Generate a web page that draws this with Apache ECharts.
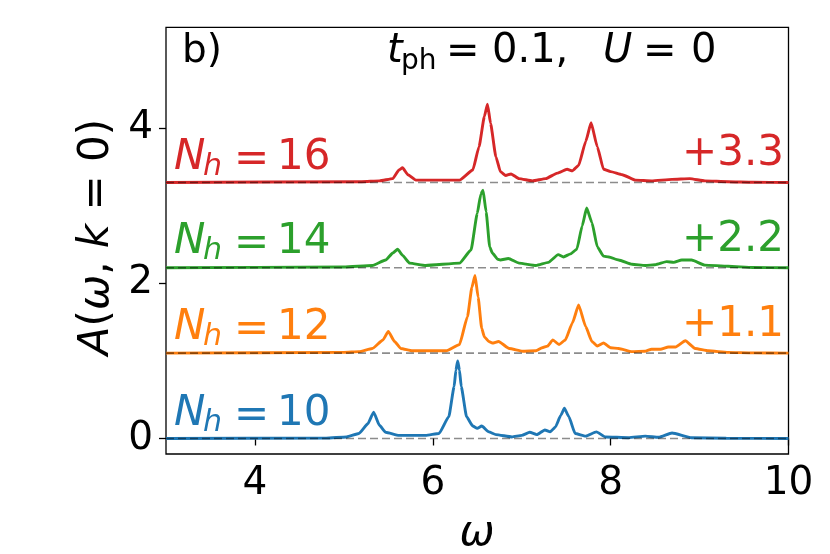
<!DOCTYPE html>
<html>
<head>
<meta charset="utf-8">
<script src="https://cdn.jsdelivr.net/npm/echarts@6/dist/echarts.min.js"></script>
<style>
html, body { margin: 0; padding: 0; background: #fff; }
#chart { width: 830px; height: 554px; }
</style>
</head>
<body>
<div id="chart"></div>
<script>
// spectra A(w, k=0) (raw, before the vertical shift)
var spec10 = [[3.0,0],[4.8,0.005],[5.03,0.02],[5.17,0.065],[5.27,0.19],[5.335,0.34],[5.40,0.17],[5.47,0.08],
  [5.62,0.04],[5.92,0.04],[6.07,0.065],[6.18,0.28],[6.24,0.67],[6.26,0.88],[6.28,1.00],[6.30,0.88],[6.32,0.67],
  [6.38,0.28],[6.45,0.16],[6.50,0.13],[6.55,0.16],[6.63,0.085],[6.71,0.05],[6.89,0.02],[7.00,0.04],[7.09,0.08],
  [7.17,0.05],[7.26,0.11],[7.32,0.085],[7.38,0.15],[7.44,0.30],[7.48,0.39],[7.53,0.28],[7.60,0.065],[7.72,0.03],
  [7.84,0.085],[7.94,0.02],[8.20,0.01],[8.39,0.03],[8.54,0.015],[8.69,0.07],[8.91,0.01],[9.3,0.003],[10.0,0]];

var spec12 = [[3.0,0],[5.0,0.01],[5.17,0.02],[5.32,0.06],[5.44,0.17],[5.50,0.28],[5.57,0.15],[5.64,0.06],
  [5.77,0.03],[6.15,0.03],[6.30,0.11],[6.39,0.47],[6.44,0.85],[6.475,1.00],[6.51,0.72],[6.55,0.32],[6.58,0.21],
  [6.63,0.15],[6.67,0.13],[6.74,0.15],[6.86,0.06],[7.01,0.025],[7.16,0.03],[7.23,0.07],[7.29,0.09],[7.35,0.17],
  [7.42,0.11],[7.49,0.17],[7.57,0.39],[7.64,0.62],[7.72,0.34],[7.79,0.15],[7.85,0.09],[7.92,0.13],[8.00,0.07],
  [8.09,0.06],[8.24,0.02],[8.39,0.025],[8.46,0.05],[8.56,0.05],[8.65,0.08],[8.73,0.08],[8.84,0.16],[8.95,0.06],
  [9.10,0.03],[9.32,0.01],[9.6,0.003],[10.0,0]];

var spec14 = [[3.0,0],[5.0,0.01],[5.32,0.03],[5.47,0.10],[5.55,0.19],[5.605,0.24],[5.66,0.16],[5.74,0.06],
  [5.92,0.03],[6.30,0.06],[6.43,0.23],[6.50,0.70],[6.54,0.95],[6.565,1.00],[6.60,0.72],[6.64,0.27],[6.67,0.19],
  [6.73,0.11],[6.76,0.10],[6.85,0.12],[6.97,0.06],[7.16,0.03],[7.30,0.07],[7.41,0.17],[7.47,0.14],[7.55,0.18],
  [7.62,0.24],[7.68,0.54],[7.73,0.77],[7.79,0.58],[7.85,0.27],[7.92,0.15],[7.98,0.14],[8.09,0.10],[8.24,0.045],
  [8.39,0.03],[8.50,0.04],[8.63,0.08],[8.71,0.07],[8.80,0.10],[8.91,0.10],[9.06,0.035],[9.32,0.02],[9.6,0.003],[10.0,0]];

var spec16 = [[3.0,0],[5.2,0.01],[5.40,0.02],[5.55,0.05],[5.62,0.16],[5.66,0.19],[5.72,0.10],[5.81,0.03],
  [6.30,0.03],[6.45,0.16],[6.52,0.46],[6.58,0.85],[6.615,1.01],[6.65,0.76],[6.71,0.33],[6.76,0.14],[6.82,0.09],
  [6.88,0.11],[6.97,0.05],[7.12,0.02],[7.27,0.05],[7.40,0.12],[7.51,0.17],[7.57,0.15],[7.64,0.22],[7.72,0.53],
  [7.78,0.77],[7.85,0.46],[7.92,0.17],[8.00,0.14],[8.13,0.10],[8.28,0.03],[8.46,0.02],[8.69,0.04],[8.89,0.05],
  [9.06,0.02],[9.32,0.01],[9.6,0.003],[10.0,0]];

var spectra = [spec10, spec12, spec14, spec16];
var sizes = ['10', '12', '14', '16'];
var offsets = [0, 1.1, 2.2, 3.3];
var offsetLabels = ['', '+1.1', '+2.2', '+3.3'];
var colors = ['#1f77b4', '#ff7f0e', '#2ca02c', '#d62728'];
var xTicks = [4, 6, 8, 10];
var yTicks = [0, 2, 4];

var FONT = 'DejaVu Sans';

var chart = echarts.init(document.getElementById('chart'), null, { renderer: 'canvas' });

var series = [];
spectra.forEach(function (s, i) {
  series.push({
    type: 'line',
    data: s.map(function (p) { return [p[0], p[1] + offsets[i]]; }),
    showSymbol: false,
    smooth: 0.15,
    smoothMonotone: 'x',
    lineStyle: { color: colors[i], width: 2.9 },
    z: 2
  });
});
// dashed baselines on top of the curves
offsets.forEach(function (o) {
  series.push({
    type: 'line',
    data: [[3, o], [10, o]],
    showSymbol: false,
    lineStyle: { color: 'rgba(0,0,0,0.45)', width: 1.6, type: [8, 4] },
    z: 3
  });
});

function txt(x, y, text, size, color, italic, align) {
  return {
    type: 'text', x: x, y: y, z: 10,
    style: {
      text: text, fill: color,
      fontSize: size, fontFamily: FONT, fontStyle: italic ? 'italic' : 'normal',
      align: align || 'left', verticalAlign: 'middle',
      textAlign: align || 'left', textVerticalAlign: 'middle'
    }
  };
}

var graphics = [];
// N_h labels: digit centre y for each curve
var nhY = [411, 325, 239.5, 155.3];
sizes.forEach(function (n, i) {
  var y = nhY[i] + 3;
  graphics.push(txt(174, y, 'N', 42, colors[i], true));
  graphics.push(txt(203, y + 9, 'h', 30, colors[i], true));
  graphics.push(txt(234, y + 2, '=', 42, colors[i], false));
  graphics.push(txt(277, y, n, 42, colors[i], false));
});
var offY = [0, 322, 236.7, 150.8];
offsetLabels.forEach(function (t, i) {
  if (t) graphics.push(txt(682, offY[i] + 3, t, 42, colors[i], false));
});
// panel label and parameters
graphics.push(txt(182, 52, 'b)', 39, '#000', false));
graphics.push(txt(387, 52, 't', 40, '#000', true));
graphics.push(txt(401, 62, 'ph', 28, '#000', false));
graphics.push(txt(446, 53, '=', 40, '#000', false));
graphics.push(txt(492, 52, '0.1,', 40, '#000', false));
graphics.push(txt(603, 52, 'U', 40, '#000', true));
graphics.push(txt(643, 53, '=', 40, '#000', false));
graphics.push(txt(691, 52, '0', 40, '#000', false));
// axis titles
graphics.push(txt(477, 534, 'ω', 42, '#000', true, 'center'));
graphics.push({
  type: 'text', x: 97, y: 237, rotation: Math.PI / 2, z: 10,
  style: {
    text: '{i|A}{n|(}{i|ω}{n|, }{i|k}{n| = 0)}',
    align: 'center', verticalAlign: 'middle',
    textAlign: 'center', textVerticalAlign: 'middle',
    fill: '#000',
    rich: {
      i: { fontSize: 42, fontFamily: FONT, fontStyle: 'italic', fill: '#000' },
      n: { fontSize: 42, fontFamily: FONT, fill: '#000' }
    }
  }
});

var option = {
  animation: false,
  backgroundColor: '#fff',
  grid: {
    left: 166, right: 41.5, top: 27.3, bottom: 100,
    show: true, borderColor: '#000', borderWidth: 1.3, backgroundColor: 'transparent'
  },
  xAxis: {
    type: 'value', min: 3, max: 10,
    axisLine: { show: false },
    axisTick: { show: true, customValues: xTicks, length: 7, lineStyle: { color: '#000', width: 1.3 } },
    axisLabel: { show: true, customValues: xTicks, margin: 10, fontSize: 39, fontFamily: FONT, color: '#000' },
    splitLine: { show: false }
  },
  yAxis: {
    type: 'value', min: -0.2, max: 5.3,
    axisLine: { show: false },
    axisTick: { show: true, customValues: yTicks, length: 7, lineStyle: { color: '#000', width: 1.3 } },
    axisLabel: { show: true, customValues: yTicks, margin: 13, fontSize: 39, fontFamily: FONT, color: '#000' },
    splitLine: { show: false }
  },
  series: series,
  graphic: graphics
};

chart.setOption(option);
</script>
</body>
</html>
